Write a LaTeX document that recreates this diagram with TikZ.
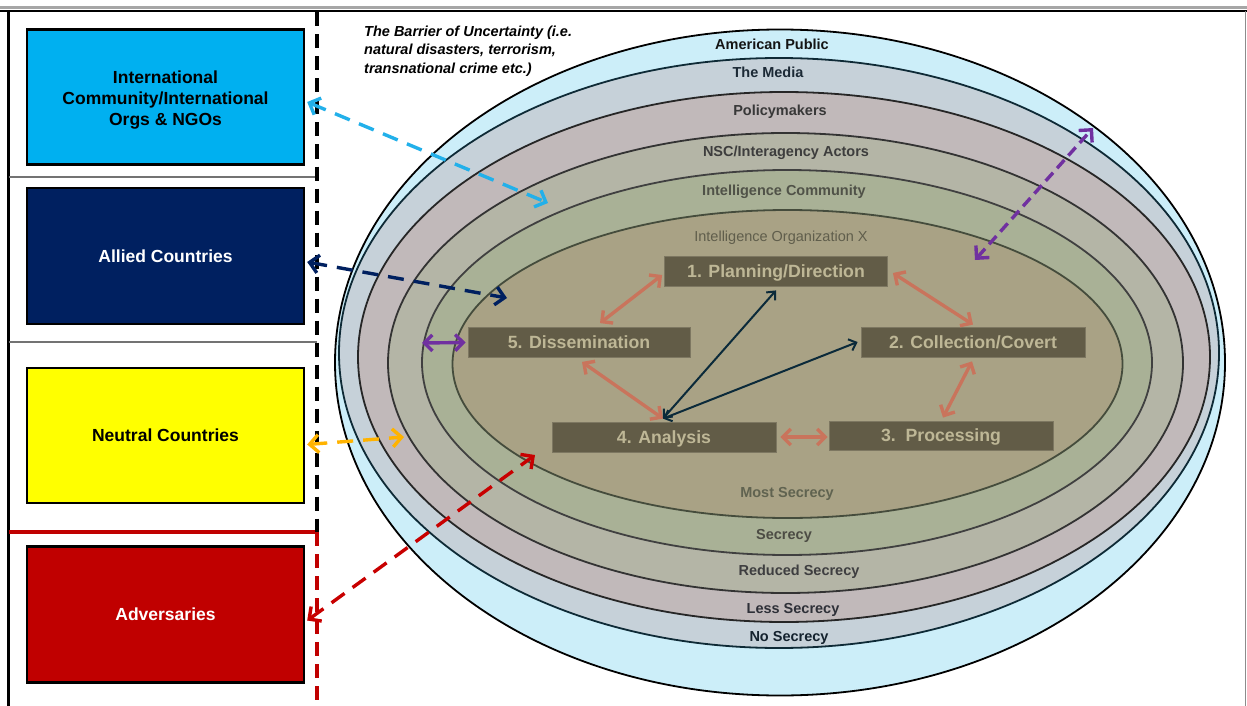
\documentclass[tikz,border=0pt]{standalone}
\usepackage{fontspec}
\setmainfont{Liberation Sans}
\usetikzlibrary{arrows.meta,calc}

% ring fills, from the public outside down to the organization inside
\definecolor{apfill}{HTML}{CCEEF9}
\definecolor{mediafill}{HTML}{C6D1D9}
\definecolor{polfill}{HTML}{C1B9BA}
\definecolor{nscfill}{HTML}{B4B5A6}
\definecolor{icfill}{HTML}{A9B196}
\definecolor{ioxfill}{HTML}{A9A285}
\definecolor{ioxedge}{HTML}{454C3C}
\definecolor{mediaedge}{HTML}{0E2A36}
% side boxes
\definecolor{intlcol}{HTML}{00B0F0}
\definecolor{alliedcol}{HTML}{002060}
\definecolor{neutralcol}{HTML}{FFFF00}
\definecolor{advcol}{HTML}{C00000}
% cycle boxes and arrows
\definecolor{stagefill}{HTML}{625C47}
\definecolor{stageedge}{HTML}{7D7761}
\definecolor{stagetext}{HTML}{BEB796}
\definecolor{cyclecol}{HTML}{C9745C}
\definecolor{linkcol}{HTML}{0B2A3A}
\definecolor{reachblue}{HTML}{22B0EA}
\definecolor{reachnavy}{HTML}{002060}
\definecolor{reachorange}{HTML}{FFB300}
\definecolor{reachred}{HTML}{C80000}
\definecolor{reachpurple}{HTML}{7030A0}

\begin{document}
\begin{tikzpicture}[x=1pt,y=-1pt,
  sidebox/.style={draw=black,line width=2.4pt,minimum width=277pt,minimum height=135pt,
    inner sep=2pt,align=center,font=\bfseries\fontsize{17.5}{21}\selectfont},
  stagebox/.style={fill=stagefill,draw=stageedge,line width=0.8pt,minimum height=30pt,
    inner sep=0pt,text height=12.7pt,text depth=0pt,text=stagetext,
    font=\bfseries\fontsize{17.7}{20}\selectfont},
  ringlabel/.style={anchor=base,inner sep=0pt,font=\bfseries\fontsize{14.5}{16}\selectfont},
  ring/.style={line width=1.8pt},
  cyclearrow/.style={draw=cyclecol,line width=3.4pt,
    {Straight Barb[length=8pt,width=16pt]}-{Straight Barb[length=8pt,width=16pt]}},
  linkarrow/.style={draw=linkcol,line width=2pt,
    {Straight Barb[length=6.5pt,width=12pt]}-{Straight Barb[length=6.5pt,width=12pt]}},
  reacharrow/.style={line width=3.4pt,dash pattern=on 16pt off 10pt,
    {Straight Barb[length=9pt,width=18pt]}-{Straight Barb[length=9pt,width=18pt]}},
]
\useasboundingbox (0,0) rectangle (1247,706);
\fill[white] (0,0) rectangle (1247,706);

% page frame
\fill[black!35] (0,6.5) rectangle (1247,9.5);
\draw[line width=2.5pt] (0,11) -- (1247,11);
\draw[line width=2.5pt] (8.5,11) -- (8.5,706);
\draw[black!45,line width=1.5pt] (1245.5,11) -- (1245.5,706);

% left column dividers
\draw[black!55,line width=1.4pt] (8.5,177) -- (317,177);
\draw[black!55,line width=1.4pt] (8.5,342) -- (317,342);
\draw[advcol,line width=3.5pt] (8.5,532) -- (317,532);
\draw[line width=3.2pt,dash pattern=on 14pt off 8pt] (317,12.5) -- (317,532);
\draw[advcol,line width=3.2pt,dash pattern=on 14pt off 8pt] (317,532) -- (317,706);

% nested rings
\draw[ring,fill=apfill,draw=black] (780,362.5) ellipse [x radius=445pt, y radius=333pt];
\draw[ring,fill=mediafill,draw=mediaedge] (779,353) ellipse [x radius=440pt, y radius=295pt];
\draw[ring,fill=polfill,draw=black!85] (784,357) ellipse [x radius=426pt, y radius=265pt];
\draw[ring,fill=nscfill,draw=black!80] (785.5,363) ellipse [x radius=397.5pt, y radius=230pt];
\draw[ring,fill=icfill,draw=black!75] (787,362.5) ellipse [x radius=365pt, y radius=192.5pt];
\draw[ring,fill=ioxfill,draw=ioxedge] (787.5,364) ellipse [x radius=335pt, y radius=154pt];

% ring labels
\node[ringlabel,text=black!92] (lap) at (772,50) {American Public};
\node[ringlabel,text={rgb,255:red,28;green,42;blue,54}] (lmedia) at (768,78) {The Media};
\node[ringlabel,text=black!78] (lpol) at (780,116) {Policymakers};
\node[ringlabel,text=black!76] (lnsc) at (786,157) {NSC/Interagency Actors};
\node[ringlabel,text={rgb,255:red,80;green,82;blue,72}] (lic) at (784,195) {Intelligence Community};
\node[ringlabel,font=\fontsize{14.5}{16}\selectfont,text={rgb,255:red,96;green,94;blue,76}] (liox) at (781,241) {Intelligence Organization X};
\node[ringlabel,text={rgb,255:red,96;green,99;blue,80}] (lmost) at (787,497) {Most Secrecy};
\node[ringlabel,text={rgb,255:red,76;green,76;blue,68}] (lsec) at (784,539.5) {Secrecy};
\node[ringlabel,text={rgb,255:red,62;green,62;blue,64}] (lred) at (799,575.5) {Reduced Secrecy};
\node[ringlabel,text={rgb,255:red,46;green,48;blue,56}] (lless) at (793,613.5) {Less Secrecy};
\node[ringlabel,text={rgb,255:red,20;green,34;blue,46}] (lno) at (789,641.5) {No Secrecy};

% barrier note
\node[anchor=north west,inner sep=0pt,align=left,
  font=\bfseries\itshape\fontsize{14.5}{18.5}\selectfont] (barrier) at (364,25.5)
  {The Barrier of Uncertainty (i.e.\\natural disasters, terrorism,\\transnational crime etc.)};

% outside actors
\node[sidebox,fill=intlcol] (intl) at (165.5,97)
  {\rule{0pt}{19pt}International\\Community/International\\Orgs \& NGOs};
\node[sidebox,fill=alliedcol,text=white,minimum height=136pt] (allied) at (165.5,256) {Allied Countries};
\node[sidebox,fill=neutralcol] (neutral) at (165.5,435.5) {Neutral Countries};
\node[sidebox,fill=advcol,text=white,minimum height=136pt] (adv) at (165.5,614.5) {Adversaries};

% intelligence cycle
\node[stagebox,minimum width=223pt] (d1) at (776,271) {1. Planning/Direction};
\node[stagebox,minimum width=224pt] (d2) at (973,342) {2. Collection/Covert};
\node[stagebox,minimum width=224pt,minimum height=29pt] (d3) at (941,435.5) {3.\ \ Processing};
\node[stagebox,minimum width=224pt] (d4) at (664,437) {4. Analysis};
\node[stagebox,minimum width=222pt] (d5) at (579,342.5) {5. Dissemination};

\draw[cyclearrow] ($(d5.north)+(21,-4)$) -- ($(d1.west)+(-2,4)$);
\draw[cyclearrow] ($(d1.east)+(5,2)$) -- ($(d2.north)+(0,-2)$);
\draw[cyclearrow] ($(d2.south)+(-1,4)$) -- ($(d3.north)+(2,-3)$);
\draw[cyclearrow] ($(d4.east)+(4,0)$) -- ($(d3.west)+(-1,1.5)$);
\draw[cyclearrow] ($(d5.south)+(3,4)$) -- ($(d4.north)+(-1,-3)$);

\draw[linkarrow] ($(d4.north)+(-1,-3)$) -- ($(d1.south)+(0,4)$);
\draw[linkarrow] ($(d4.north)+(-1,-3)$) -- ($(d2.west)+(-3,0)$);

% points on the rings reached by outside actors
\coordinate (cintl) at (548,203);
\coordinate (callied) at (507,298);
\coordinate (cneutral) at (404,437);
\coordinate (cadv) at (535,455);
\coordinate (cicwest) at (422,343);
\coordinate (cpubin) at (975,260);
\coordinate (cpubout) at (1093,128);

\draw[reacharrow,draw=reachblue] ($(intl.east)+(2,5)$) -- (cintl);
\draw[reacharrow,draw=reachnavy] ($(allied.east)+(2,6)$) -- (callied);
\draw[reacharrow,draw=reachorange] ($(neutral.east)+(2,9)$) -- (cneutral);
\draw[reacharrow,draw=reachred] ($(adv.east)+(2,6)$) -- (cadv);
\draw[reacharrow,draw=reachpurple,dash pattern=on 11pt off 6pt] (cpubin) -- (cpubout);
\draw[draw=reachpurple,line width=3.4pt,
  {Straight Barb[length=8pt,width=16pt]}-{Straight Barb[length=8pt,width=16pt]}]
  (cicwest) -- ($(d5.west)+(-2,0)$);
\end{tikzpicture}
\end{document}
